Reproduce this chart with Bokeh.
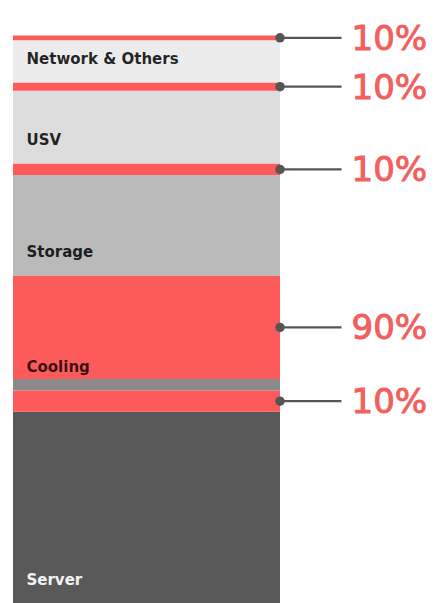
from bokeh.plotting import figure
from bokeh.models import Range1d, ColumnDataSource
from bokeh.core.properties import value
from bokeh.embed import file_html
from bokeh.resources import INLINE

# Energy share of each data-centre component (bottom to top), in percent
categories = ["Server", "Cooling", "Storage", "USV", "Network & Others"]
shares = [37.5, 20.2, 19.7, 14.3, 8.3]
# Portion of each component highlighted in red, in percent of that component
highlight_pct = [10, 90, 10, 10, 10]

base_colors = ["#595959", "#8a8a8c", "#bababa", "#dddddd", "#ececec"]
label_colors = ["#f2f2f2", "#000000", "#000000", "#000000", "#000000"]
label_alpha = [1.0, 0.8, 0.85, 0.85, 0.85]
RED = "#fd5b5b"
TEXT_RED = "#f25f5f"
DARK = "#555555"

BAR_LEFT, BAR_RIGHT = 12.5, 279.5
LEADER_END = 341
PCT_X = 351
LABEL_X = 26

# Stack the segments
bottoms, base_tops, tops = [], [], []
acc = 0.0
for s, pct in zip(shares, highlight_pct):
    bottoms.append(acc)
    base_tops.append(acc + s * (1 - pct / 100))
    tops.append(acc + s)
    acc += s
mids = [(b + t) / 2 for b, t in zip(base_tops, tops)]
pct_text = [f"{v}%" for v in highlight_pct]

src = ColumnDataSource(dict(
    cat=categories, bottom=bottoms, base_top=base_tops, top=tops, mid=mids,
    color=base_colors, label_color=label_colors, label_alpha=label_alpha,
    pct=pct_text,
))

H = 603
px_per_unit = 568 / acc
p = figure(width=441, height=H, x_range=Range1d(0, 441),
           y_range=Range1d(0, H / px_per_unit),
           x_axis_type=None, y_axis_type=None,
           toolbar_location=None, output_backend="svg",
           min_border=0, outline_line_color=None,
           background_fill_color="white", border_fill_color="white")
p.grid.visible = False

# Base part of each component
p.quad(left=BAR_LEFT, right=BAR_RIGHT, bottom="bottom", top="base_top",
       fill_color="color", line_color=None, source=src)
# Highlighted part on top of each component
p.quad(left=BAR_LEFT, right=BAR_RIGHT, bottom="base_top", top="top",
       fill_color=RED, line_color=None, source=src)

# Leader lines with dots
p.segment(x0=BAR_RIGHT, x1=LEADER_END, y0="mid", y1="mid",
          line_color=DARK, line_width=2.2, source=src)
p.scatter(x=BAR_RIGHT, y="mid", size=9.5, fill_color=DARK,
          line_color=None, source=src)

# Percentages
p.text(x=PCT_X, y="mid", text="pct", source=src,
       text_font=value("DejaVu Sans"), text_font_size="34px",
       text_color=TEXT_RED, text_outline_color=TEXT_RED,
       text_align="left", text_baseline="alphabetic")

# Component names
p.text(x=LABEL_X, y="bottom", y_offset=-24, text="cat", source=src,
       text_font=value("DejaVu Sans"), text_font_size="15px",
       text_font_style="bold", text_color="label_color",
       text_alpha="label_alpha", text_align="left", text_baseline="middle")

open("out.html", "w").write(file_html(p, INLINE))
